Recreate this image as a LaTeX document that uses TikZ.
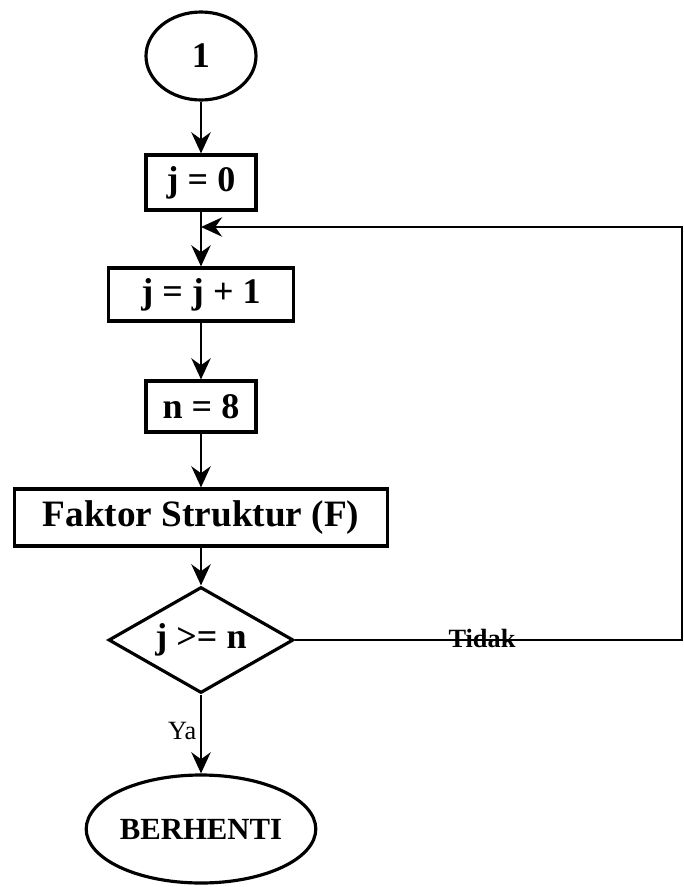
\documentclass[tikz,border=0pt]{standalone}
\usepackage{fontspec}
\setmainfont{Liberation Serif}
\usetikzlibrary{arrows.meta, shapes.geometric}

\begin{document}
\begin{tikzpicture}[
  proc/.style={draw, line width=1.8pt, inner sep=0pt, font=\fontsize{20.5}{24}\selectfont\bfseries},
  term/.style={proc, ellipse},
  cond/.style={proc, diamond, aspect=1.75},
  flow/.style={-{Stealth[length=12pt, width=11pt]}, line width=1.3pt},
  note/.style={font=\fontsize{15}{17}\selectfont},
]
\useasboundingbox (0,0) rectangle (13.68,-17.74);

% ===== Nodes =====
\node[term, minimum width=2.2cm, minimum height=1.76cm] (start) at (4.02,-1.12) {1};
\node[proc, minimum width=2.2cm, minimum height=1.1cm] (jnol) at (4.02,-3.65) {j = 0};
\node[proc, minimum width=3.7cm, minimum height=1.06cm] (jtambah) at (4.02,-5.89) {j = j + 1};
\node[proc, minimum width=2.2cm, minimum height=1.02cm] (nval) at (4.02,-8.13) {n = 8};
\node[proc, minimum width=7.46cm, minimum height=1.14cm, font=\fontsize{21.2}{25}\selectfont\bfseries] (faktor) at (4.02,-10.35) {Faktor Struktur (F)};
\node[cond, minimum width=3.7cm, minimum height=2.12cm] (cek) at (4.02,-12.8) {j >= n};
\node[term, minimum width=3.7cm, minimum height=2.16cm, font=\fontsize{17.5}{20}\selectfont\bfseries] (stop) at (4.02,-16.58) {BERHENTI};

% loop corners
\coordinate (loopin) at (4.02,-4.54);
\coordinate (loopR) at (13.64,-4.54);

% ===== Connectors =====
\draw[flow] (start) -- (jnol);
\draw[flow] (jnol) -- (jtambah);
\draw[flow] (jtambah) -- (nval);
\draw[flow] (nval) -- (faktor);
\draw[flow] (faktor) -- (cek);
\draw[flow] (cek) -- (stop);

% Tidak: back to j = j + 1
\draw[flow] (cek.east) -- (cek.east -| loopR) -- (loopR) -- (loopin);

% Labels
\node[note, font=\fontsize{15}{17}\selectfont\bfseries] (tidak) at (9.64,-12.76) {Tidak};
\node[note, anchor=east] (ya) at (4.05,-14.62) {Ya};

\end{tikzpicture}
\end{document}
